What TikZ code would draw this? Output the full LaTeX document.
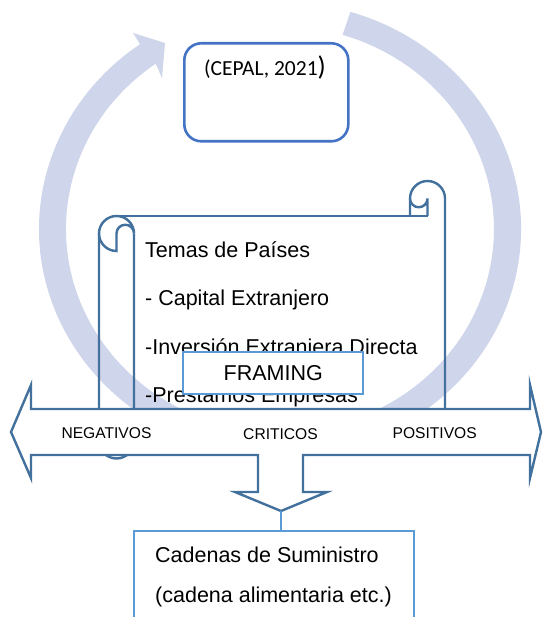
\documentclass[tikz,border=0pt]{standalone}
\usepackage{fontspec}
\setmainfont{Liberation Sans}
\newfontfamily\calibrifont{Carlito}
\definecolor{ringc}{RGB}{207,213,234}
\definecolor{scrollc}{RGB}{65,113,156}
\definecolor{lightc}{RGB}{91,155,213}
\definecolor{cepalc}{RGB}{68,114,196}
\tikzset{
  scrollline/.style={draw=scrollc, line width=2.4pt},
  arrowshape/.style={draw=scrollc, line width=2.4pt, fill=white, line join=miter},
  bodytext/.style={font=\fontsize{21.5}{25}\selectfont, inner sep=0pt, anchor=base west},
  labeltext/.style={font=\fontsize{15.6}{18}\selectfont, inner sep=0pt, anchor=base},
  lightbox/.style={draw=lightc, line width=2.4pt, fill=white, inner sep=0pt},
}
\begin{document}
\begin{tikzpicture}[x=1pt,y=-1pt]
\useasboundingbox (0,0) rectangle (542,617);
\fill[white] (0,0) rectangle (542,617);
\clip (0,0) rectangle (542,617);

% circular arrow
\fill[ringc] (350.5,11.9) arc[start angle=-73, end angle=234.5, x radius=241, y radius=227]
  -- (133,33) -- (165,43) -- (162,78) -- (155.7,63.7)
  arc[start angle=234.5, end angle=-73, x radius=214, y radius=203] -- cycle;

% scroll
\draw[scrollline] (134,233.5) arc[start angle=0, end angle=-180, radius=17.5]
  arc[start angle=180, end angle=90, radius=17.5] -- (116.5,233.5)
  arc[start angle=180, end angle=360, radius=8.75];
\draw[scrollline] (99,233.5) -- (99,441) arc[start angle=180, end angle=0, radius=17.5] -- (134,233.5);
\draw[scrollline] (116.5,216) -- (427.5,216);
\draw[scrollline] (410,216) -- (410,198.5) arc[start angle=180, end angle=360, radius=17.5] -- (445,441) -- (134,441);
\draw[scrollline] (410,198.5) arc[start angle=180, end angle=0, radius=8.75] -- (427.5,216);

% scroll texts
\node[bodytext] (t1) at (145,257) {Temas de Países};
\node[bodytext] (t2) at (145,305.5) {- Capital Extranjero};
\node[bodytext] (t3) at (145,354) {-Inversión Extranjera Directa};
\node[bodytext] (t4) at (145,402.5) {-Prestamos Empresas};

% framing box
\node[lightbox, minimum width=180pt, minimum height=42pt, anchor=north west,
      font=\fontsize{21.5}{25}\selectfont] (framing) at (182,351) {FRAMING};

% CEPAL box
\node[draw=cepalc, line width=2.6pt, rounded corners=17pt, fill=white,
      minimum width=164pt, minimum height=98pt, anchor=north west, inner sep=0pt] (cepal) at (183,42) {};
\node[font=\calibrifont\fontsize{21.5}{24}\selectfont, anchor=base west, inner sep=0pt] (cepaltext)
  at (204,76) {(CEPAL, 2021{\fontsize{27}{27}\selectfont)}};

% three-way arrow
\draw[arrowshape] (11,432) -- (31,385) -- (31,409) -- (530,409) -- (530,385) -- (541,432)
  -- (530,478) -- (530,455) -- (303,455) -- (303,492) -- (327,492) -- (281,511)
  -- (235,492) -- (258,492) -- (258,455) -- (31,455) -- (31,478) -- cycle;
\coordinate (arrowtip) at (281,511);
\node[labeltext] (neg) at (106.5,438) {NEGATIVOS};
\node[labeltext] (crit) at (280.5,439) {CRITICOS};
\node[labeltext] (pos) at (434.7,438) {POSITIVOS};

% supply chain box
\node[lightbox, line width=2.2pt, minimum width=280pt, minimum height=110pt, anchor=north west] (supply) at (133,530) {};
\node[bodytext] (s1) at (155,562) {Cadenas de Suministro};
\node[bodytext] (s2) at (155,602.5) {(cadena alimentaria etc.)};

\draw[lightc, line width=1.5pt] (arrowtip) -- (arrowtip |- supply.north);
\end{tikzpicture}
\end{document}
